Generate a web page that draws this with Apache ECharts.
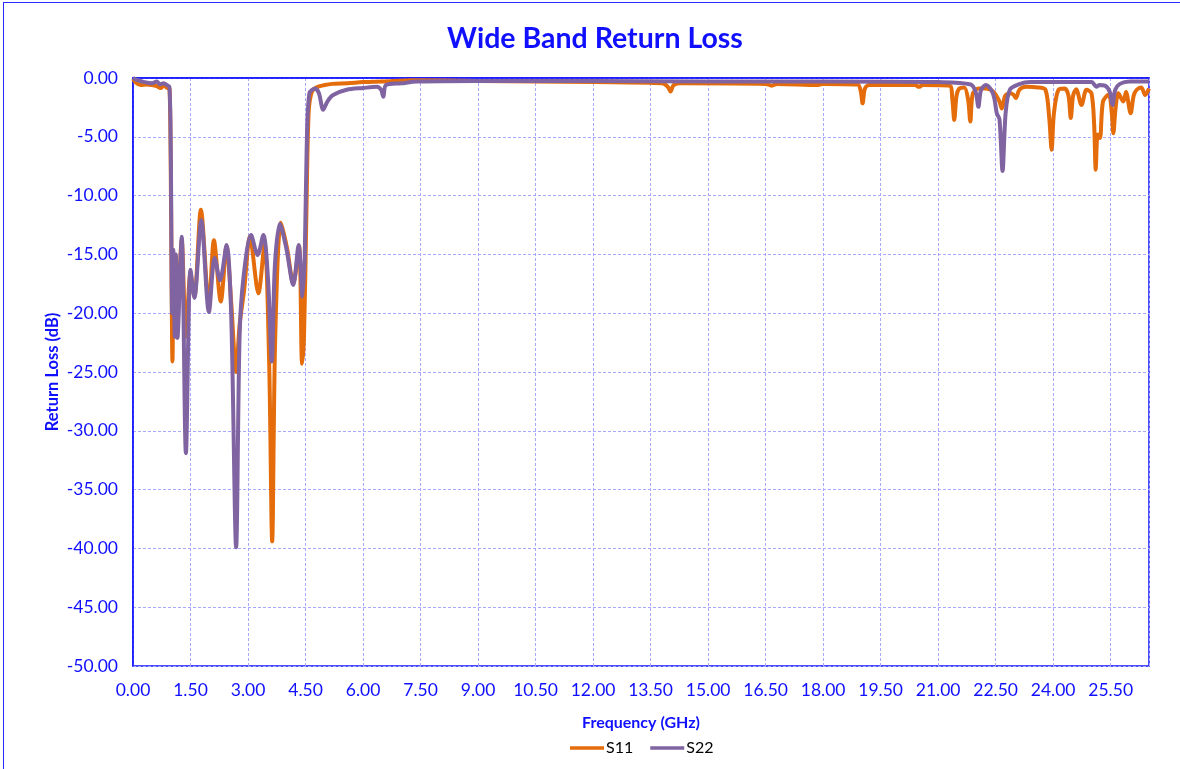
<!DOCTYPE html>
<html>
<head>
<meta charset="utf-8">
<script src="https://cdn.jsdelivr.net/npm/echarts@6/dist/echarts.min.js"></script>
<style>
  html, body { margin: 0; padding: 0; background: #ffffff; }
  #frame { position: absolute; left: 3px; top: 2px; width: 1200px; height: 800px; border: 1.5px solid #2a2aff; box-sizing: border-box; }
  #chart { position: absolute; left: 0; top: 0; width: 1180px; height: 769px; }
</style>
</head>
<body>
<div id="frame"></div>
<div id="chart"></div>
<script>
// ---- data (frequency in GHz, return loss in dB) ----
const s11Freq = [0.00,0.08,0.20,0.35,0.50,0.62,0.72,0.80,0.90,0.955,0.99,1.03,1.06,1.10,1.16,1.27,1.38,1.50,1.60,1.77,1.98,2.11,2.29,2.44,2.56,2.69,2.78,2.90,3.05,3.27,3.43,3.55,3.63,3.71,3.86,4.02,4.18,4.33,4.41,4.46,4.52,4.58,4.66,4.78,5.0,5.2,5.6,6.0,6.5,7.3,9.0,10.5,12.0,13.8,13.95,14.02,14.1,14.3,16.5,16.66,16.8,17.87,18.0,18.9,18.98,19.03,19.09,19.2,20.4,20.5,20.6,21.3,21.37,21.42,21.48,21.55,21.68,21.78,21.84,21.9,22.05,22.25,22.45,22.6,22.66,22.75,22.87,22.96,23.03,23.12,23.3,23.6,23.8,23.9,23.96,24.02,24.14,24.3,24.4,24.46,24.52,24.6,24.74,24.87,25.0,25.07,25.11,25.16,25.22,25.3,25.45,25.53,25.57,25.63,25.7,25.83,25.9,26.02,26.1,26.18,26.3,26.4,26.5];
const s11Loss = [-0.05,-0.40,-0.60,-0.55,-0.60,-0.70,-0.85,-0.65,-0.85,-0.95,-10,-24.1,-16,-21,-20.5,-13.8,-22,-16.6,-18.6,-11.2,-19.3,-13.8,-19.0,-14.3,-19,-25,-21,-18,-13.5,-18.3,-14.1,-24,-39.4,-22,-12.3,-14.5,-17.5,-14.3,-24.3,-22.0,-12,-3,-1.2,-0.8,-0.6,-0.5,-0.45,-0.35,-0.3,-0.2,-0.25,-0.3,-0.35,-0.45,-0.75,-1.15,-0.6,-0.45,-0.5,-0.65,-0.5,-0.6,-0.5,-0.55,-1.1,-2.15,-0.9,-0.6,-0.6,-0.75,-0.6,-0.65,-1.8,-3.57,-1.5,-0.9,-0.8,-1.8,-3.7,-1.4,-0.9,-0.9,-1.2,-2.0,-2.6,-1.5,-1.3,-1.4,-1.7,-1.0,-0.75,-0.8,-1.0,-3.5,-6.1,-3,-1.0,-0.9,-1.5,-3.4,-1.5,-0.95,-2.3,-1.0,-1.3,-4,-7.8,-4.8,-5.1,-2.0,-1.4,-3.0,-4.7,-2.5,-1.3,-2.0,-1.2,-3.0,-1.5,-1.0,-0.8,-1.45,-0.9];

const s22Freq = [0.00,0.10,0.30,0.50,0.62,0.70,0.80,0.88,0.95,0.985,1.02,1.05,1.09,1.12,1.16,1.27,1.38,1.50,1.60,1.78,1.98,2.13,2.27,2.44,2.56,2.69,2.78,2.88,3.08,3.25,3.40,3.52,3.62,3.70,3.83,4.00,4.18,4.32,4.42,4.48,4.53,4.60,4.75,4.85,4.96,5.07,5.22,5.57,6.0,6.36,6.47,6.53,6.6,7.0,7.4,9.0,12.0,15.0,18.0,21.0,21.85,21.98,22.05,22.12,22.25,22.40,22.47,22.53,22.60,22.68,22.76,22.87,23.1,23.4,25.0,25.13,25.2,25.35,25.48,25.55,25.62,25.74,26.0,26.5];
const s22Loss = [0.0,-0.15,-0.35,-0.45,-0.30,-0.55,-0.45,-0.6,-0.75,-6,-20,-14.6,-22,-15,-22.1,-13.5,-31.9,-16.3,-18.7,-12.1,-19.9,-15.3,-17.2,-14.2,-20,-39.9,-22,-17,-13.35,-15.05,-13.35,-17,-24.1,-16,-12.4,-14.5,-17.6,-14.2,-18.6,-15,-6,-1.3,-0.9,-1.3,-2.7,-2.0,-1.45,-1.0,-0.85,-0.75,-1.0,-1.6,-0.6,-0.45,-0.3,-0.25,-0.25,-0.3,-0.3,-0.35,-0.55,-1.2,-2.45,-1.0,-0.6,-1.1,-1.8,-3.0,-3.5,-7.9,-3.0,-1.0,-0.55,-0.35,-0.35,-0.75,-0.6,-0.65,-1.2,-2.3,-1.0,-0.5,-0.3,-0.3];

const seriesNames = ['S11', 'S22'];
const xAxisMin = 0, xAxisMax = 26.5, xAxisStep = 1.5;
const yAxisMin = -50, yAxisMax = 0, yAxisStep = 5;

const zip = (a, b) => a.map((v, i) => [v, b[i]]);

const BLUE = '#1010ff';
const FONT = 'Lato, "Open Sans", sans-serif';

const chart = echarts.init(document.getElementById('chart'), null, { renderer: 'canvas' });
chart.setOption({
  animation: false,
  backgroundColor: 'transparent',
  title: {
    text: 'Wide Band Return Loss',
    left: 590, top: 19, textAlign: 'center',
    textStyle: { color: BLUE, fontSize: 28.5, fontWeight: 'bold', fontFamily: FONT }
  },
  legend: {
    data: seriesNames,
    top: 735, left: 565,
    icon: 'rect', itemWidth: 34, itemHeight: 3.5, itemGap: 17,
    textStyle: { color: '#000', fontSize: 16, fontFamily: FONT, padding: [0, 0, 0, -3] }
  },
  grid: {
    left: 133, top: 78, width: 1016, height: 588,
    show: true, borderColor: BLUE, borderWidth: 1.5, backgroundColor: 'transparent'
  },
  xAxis: {
    type: 'value', min: xAxisMin, max: xAxisMax, interval: xAxisStep,
    name: 'Frequency (GHz)', nameLocation: 'middle', nameGap: 49,
    nameTextStyle: { color: BLUE, fontSize: 16, fontWeight: 'bold', fontFamily: FONT },
    axisLine: { show: true, lineStyle: { color: BLUE, width: 1.5 } },
    axisTick: { show: false },
    axisLabel: { color: BLUE, fontSize: 17.5, fontFamily: FONT, margin: 15, showMaxLabel: false,
      formatter: v => v.toFixed(2) },
    splitLine: { show: true, lineStyle: { color: '#a8a8ff', type: [3, 2], width: 1 } }
  },
  yAxis: {
    type: 'value', min: yAxisMin, max: yAxisMax, interval: yAxisStep,
    name: 'Return Loss (dB)', nameLocation: 'middle', nameGap: 72, nameRotate: 90,
    nameMoveOverlap: false,
    nameTextStyle: { color: BLUE, fontSize: 16.5, fontWeight: 'bold', fontFamily: FONT },
    axisLine: { show: true, lineStyle: { color: BLUE, width: 1.5 } },
    axisTick: { show: false },
    axisLabel: { color: BLUE, fontSize: 17.5, fontFamily: FONT, margin: 15,
      formatter: v => v.toFixed(2) },
    splitLine: { show: true, lineStyle: { color: '#a8a8ff', type: [3, 2], width: 1 } }
  },
  series: [
    { name: 'S11', type: 'line', data: zip(s11Freq, s11Loss), showSymbol: false, symbol: 'none',
      smooth: 0.3, lineStyle: { color: '#E46C0A', width: 4 }, itemStyle: { color: '#E46C0A' }, z: 2 },
    { name: 'S22', type: 'line', data: zip(s22Freq, s22Loss), showSymbol: false, symbol: 'none',
      smooth: 0.3, lineStyle: { color: '#8064A2', width: 4 }, itemStyle: { color: '#8064A2' }, z: 3 }
  ]
});
</script>
</body>
</html>
